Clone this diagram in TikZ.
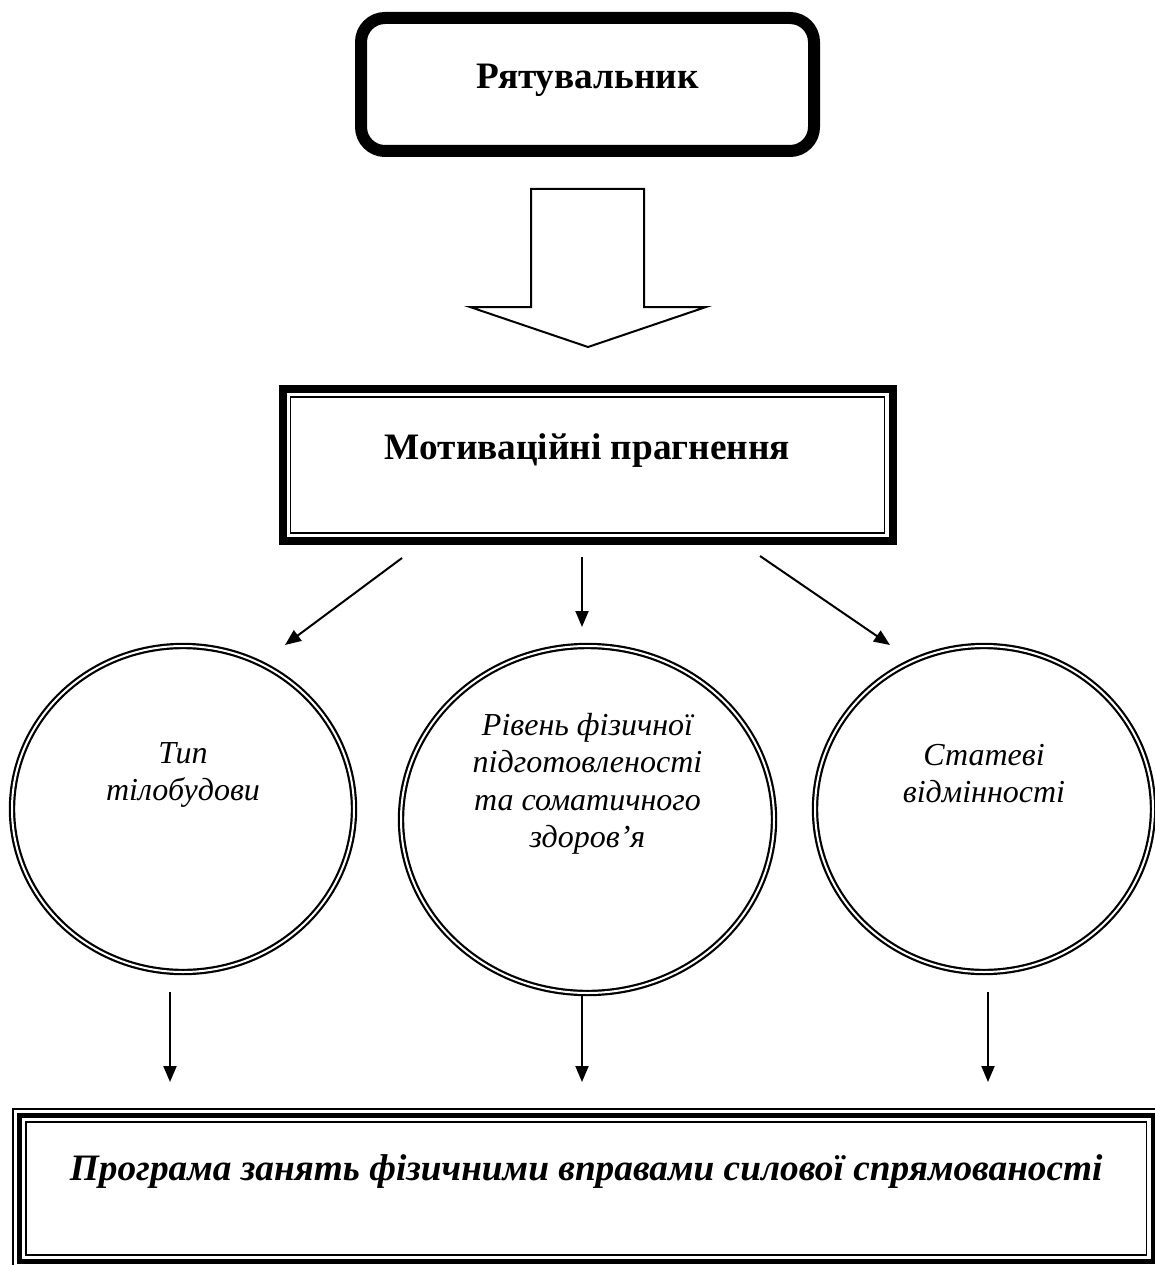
\documentclass[tikz,border=0pt]{standalone}
\usepackage{fontspec}
\setmainfont{Liberation Serif}
\usetikzlibrary{shapes.geometric,arrows.meta,calc}
\begin{document}
\begin{tikzpicture}[x=1pt,y=-1pt,
  topbox/.style={draw, rectangle, rounded corners=24pt, line width=12pt,
    minimum width=453pt, minimum height=133pt, outer sep=0pt, inner sep=0pt,
    font=\fontsize{37.3}{44}\selectfont\bfseries, text height=24.7pt, text depth=15.7pt},
  motbox/.style={draw, rectangle, line width=8pt, minimum width=610pt,
    minimum height=152pt, outer sep=0pt, inner sep=0pt,
    font=\fontsize{37.3}{44}\selectfont\bfseries, text height=24.7pt, text depth=36.7pt},
  progbox/.style={draw, rectangle, line width=5pt, minimum width=1133.5pt,
    minimum height=146pt, outer sep=0pt, inner sep=0pt,
    font=\fontsize{37.3}{44}\selectfont\bfseries\itshape, text height=24.7pt, text depth=41.7pt},
  thinframe/.style={draw, line width=1.8pt},
  factor/.style={ellipse, draw, double, line width=2.2pt, double distance=2pt,
    outer sep=0pt, inner sep=0pt, text height=0pt,
    font=\fontsize{32}{37.5}\selectfont\itshape},
  arr/.style={line width=2pt, -{Triangle[length=16pt,width=13pt]}},
  bigarrow/.style={draw, line width=2pt, fill=white, line join=miter}
]
\useasboundingbox (0,0) rectangle (1154,1265);

% top box
\node[topbox] (top) at (587.5,84.5) {Рятувальник};

% motivation box
\node[motbox] (mot) at (587.5,465) {Мотиваційні прагнення};
\draw[thinframe] ($(mot.north west)+(8,8)$) rectangle ($(mot.south east)+(-8,-8)$);

% big hollow arrow
\coordinate (ba1) at (531,189);
\coordinate (ba2) at (644,189);
\coordinate (ba3) at (644,307);
\coordinate (ba4) at (706,307);
\coordinate (batip) at (588,347);
\coordinate (ba6) at (470,307);
\coordinate (ba7) at (531,307);
\draw[bigarrow] (ba1) -- (ba2) -- (ba3) -- (ba4) -- (batip) -- (ba6) -- (ba7) -- cycle;

% factor circles
\node[factor, minimum width=342pt, minimum height=326pt, text depth=92pt] (c1) at (183,809)
  {\begin{tabular}[t]{@{}c@{}}Тип\\тілобудови\end{tabular}};
\node[factor, minimum width=373pt, minimum height=347pt, text depth=169pt] (c2) at (587.5,819.5)
  {\begin{tabular}[t]{@{}c@{}}Рівень фізичної\\підготовленості\\та соматичного\\здоров’я\end{tabular}};
\node[factor, minimum width=338pt, minimum height=326pt, text depth=88pt] (c3) at (984,809)
  {\begin{tabular}[t]{@{}c@{}}Статеві\\відмінності\end{tabular}};

% arrows from motivation box
\coordinate (m1) at (402,558);
\coordinate (t1) at (285,645);
\coordinate (m2) at (582,557);
\coordinate (t2) at (582,627);
\coordinate (m3) at (760,556);
\coordinate (t3) at (890,645);
\draw[arr] (m1) -- (t1);
\draw[arr] (m2) -- (t2);
\draw[arr] (m3) -- (t3);

% program box
\node[progbox] (prog) at (586.25,1188.5) {Програма занять фізичними вправами силової спрямованості};
\draw[thinframe, line width=1.5pt] ($(prog.north west)+(-6.5,-6.5)$) rectangle ($(prog.south east)+(6.5,6.5)$);
\draw[thinframe, line width=1.5pt] ($(prog.north west)+(6.5,6.5)$) rectangle ($(prog.south east)+(-6.5,-6.5)$);

% arrows to program box
\coordinate (s1) at (170,992);
\coordinate (e1) at (170,1082);
\coordinate (s2) at (582,996);
\coordinate (e2) at (582,1082);
\coordinate (s3) at (988,992);
\coordinate (e3) at (988,1082);
\draw[arr] (s1) -- (e1);
\draw[arr] (s2) -- (e2);
\draw[arr] (s3) -- (e3);
\end{tikzpicture}
\end{document}
